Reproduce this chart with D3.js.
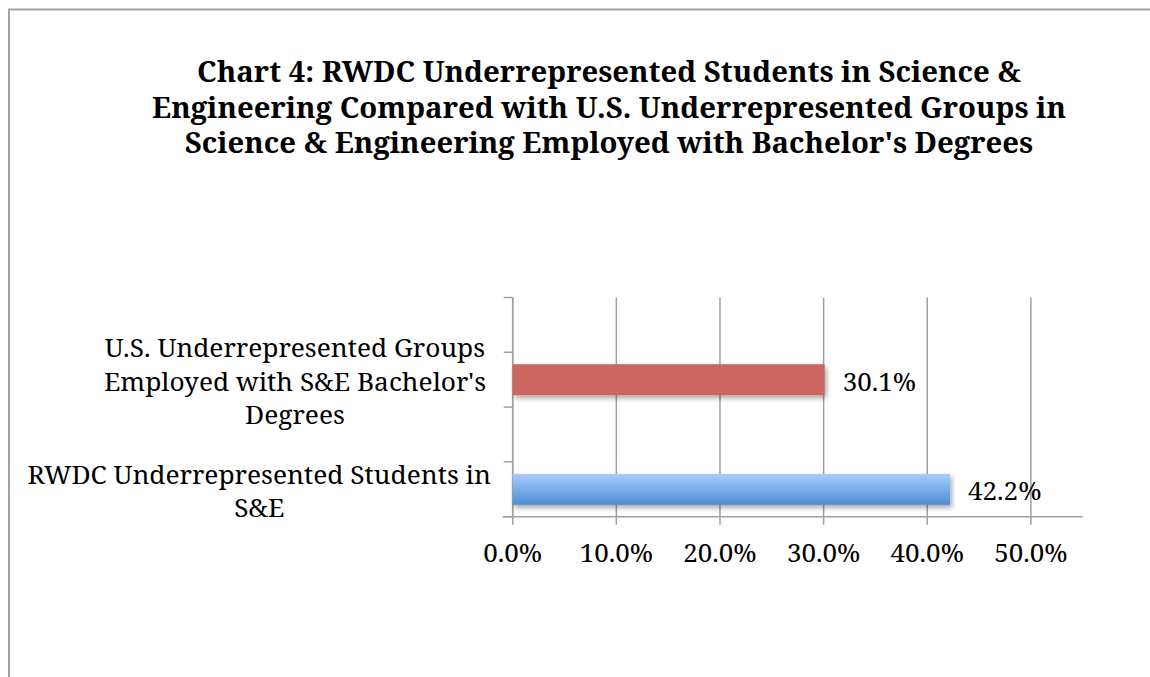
<!DOCTYPE html>
<html><head><meta charset="utf-8">
<script src="https://cdn.jsdelivr.net/npm/d3@7"></script>
<style>body{margin:0;background:#fff}svg{display:block}</style></head>
<body><svg id="c" width="1150" height="677"></svg>
<script>
// ---- data ----
const titleLines = [
  "Chart 4: RWDC Underrepresented Students in Science &",
  "Engineering Compared with U.S. Underrepresented Groups in",
  "Science & Engineering Employed with Bachelor's Degrees"
];
// category slots (Excel left empty slots between the two categories)
const categories = ["", "U.S. Underrepresented Groups Employed with S&E Bachelor's Degrees", " ", "RWDC Underrepresented Students in S&E"];
const categoryLabelLines = [
  [],
  ["U.S. Underrepresented Groups", "Employed with S&E Bachelor's", "Degrees"],
  [],
  ["RWDC Underrepresented Students in", "S&E"]
];
const values = [null, 0.301, null, 0.422];
const barColors = [null, "#cd6660", null, "url(#blueGrad)"];
const xTicks = [0, 0.1, 0.2, 0.3, 0.4, 0.5];
const xMax = 0.55;

// ---- chart ----
const svg = d3.select("#c");
const FONT = "'Noto Serif', 'DejaVu Serif', serif";
const pLeft = 512.7, pRight = 1082.7, pTop = 297.5, pBottom = 516.7;

const defs = svg.append("defs");
const g1 = defs.append("linearGradient").attr("id","blueGrad").attr("x1",0).attr("y1",0).attr("x2",0).attr("y2",1);
g1.append("stop").attr("offset","0%").attr("stop-color","#aacdfa");
g1.append("stop").attr("offset","100%").attr("stop-color","#4b8fd8");
const flt = defs.append("filter").attr("id","shadow").attr("x","-5%").attr("y","-20%").attr("width","115%").attr("height","160%");
flt.append("feGaussianBlur").attr("in","SourceAlpha").attr("stdDeviation",2.5).attr("result","b");
flt.append("feOffset").attr("in","b").attr("dx",2).attr("dy",3).attr("result","o");
flt.append("feComponentTransfer").attr("in","o").attr("result","o2").append("feFuncA").attr("type","linear").attr("slope",0.35);
const fm = flt.append("feMerge"); fm.append("feMergeNode").attr("in","o2"); fm.append("feMergeNode").attr("in","SourceGraphic");

// outer border
svg.append("path").attr("d","M9,677 L9,9.5 L1150,9.5").attr("fill","none").attr("stroke","#a3a3a3").attr("stroke-width",2);

// title
const title = svg.append("text").attr("text-anchor","middle")
  .style("font-family",FONT).style("font-weight","bold").style("font-size","29.3px").attr("fill","#000");
titleLines.forEach((t,i)=> title.append("tspan").attr("x",609).attr("y",82 + i*35.5).text(t));

const x = d3.scaleLinear().domain([0,xMax]).range([pLeft,pRight]);
const y = d3.scaleBand().domain(categories).range([pTop,pBottom]).paddingInner(0).paddingOuter(0);
const barH = 31;

// gridlines
svg.append("g").selectAll("line").data(xTicks).join("line")
  .attr("x1",d=>x(d)).attr("x2",d=>x(d)).attr("y1",pTop).attr("y2",pBottom+8)
  .attr("stroke","#a0a0a0").attr("stroke-width",1.5);

// y axis line + ticks (at band boundaries)
const yBounds = categories.map(c=>y(c)).concat([pBottom]);
svg.append("line").attr("x1",pLeft).attr("x2",pLeft).attr("y1",pTop).attr("y2",pBottom).attr("stroke","#a0a0a0").attr("stroke-width",1.5);
svg.append("g").selectAll("line").data(yBounds).join("line")
  .attr("x1",pLeft-9).attr("x2",pLeft).attr("y1",d=>d).attr("y2",d=>d)
  .attr("stroke","#a0a0a0").attr("stroke-width",1.5);

// bars
const barData = categories.map((c,i)=>({c, v:values[i], col:barColors[i]})).filter(d=>d.v!=null);
svg.append("g").selectAll("rect").data(barData).join("rect")
  .attr("x",x(0)).attr("y",d=>y(d.c)+y.bandwidth()/2-barH/2)
  .attr("width",d=>x(d.v)-x(0)).attr("height",barH)
  .attr("fill",d=>d.col).attr("filter","url(#shadow)");

// x axis line
svg.append("line").attr("x1",pLeft-10).attr("x2",pRight).attr("y1",pBottom).attr("y2",pBottom).attr("stroke","#a0a0a0").attr("stroke-width",1.5);

// data labels
svg.append("g").selectAll("text").data(barData).join("text")
  .attr("x",d=>x(d.v)+18).attr("y",d=>y(d.c)+y.bandwidth()/2+11)
  .style("font-family",FONT).style("font-size","26px").attr("fill","#000")
  .text(d=>(d.v*100).toFixed(1)+"%");

// x tick labels
svg.append("g").selectAll("text").data(xTicks).join("text")
  .attr("x",d=>x(d)).attr("y",561.5).attr("text-anchor","middle")
  .style("font-family",FONT).style("font-size","26px").attr("fill","#000")
  .text(d3.format(".1%"));

// category labels (centred block, right edge near axis)
const lblG = svg.append("g");
categories.forEach((c,i)=>{
  const lines = categoryLabelLines[i];
  if(!lines.length) return;
  const cy = y(c)+y.bandwidth()/2;
  const lh = 33.5;
  const t = lblG.append("text").attr("text-anchor","middle")
    .style("font-family",FONT).style("font-size","26.3px").attr("fill","#000");
  const spans = lines.map((l,k)=> t.append("tspan").attr("y", cy + 11 + (k-(lines.length-1)/2)*lh).text(l));
  const maxW = d3.max(spans, s=>s.node().getComputedTextLength());
  const cx = 486 - maxW/2 + (lines.length===2?5:0);
  spans.forEach(s=>s.attr("x",cx));
});
</script></body></html>
